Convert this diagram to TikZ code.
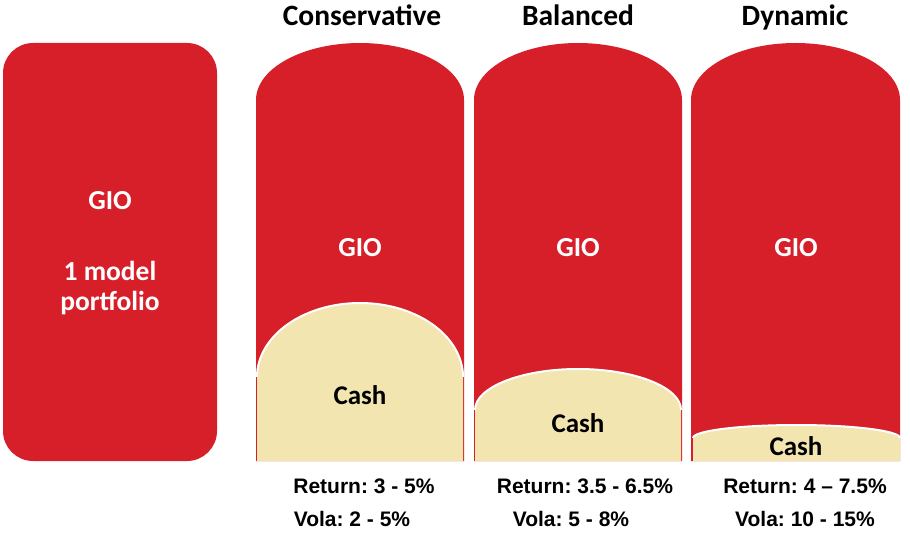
\documentclass[tikz,border=0pt]{standalone}
\usepackage{fontspec}
\setmainfont{Carlito}
\newfontfamily\arialfont{Liberation Sans}
\usepackage{xcolor}
\usepackage{tikz}
\usetikzlibrary{positioning}
\frenchspacing

\definecolor{gired}{HTML}{D71F2A}
\definecolor{cashfill}{HTML}{F2E5AF}

\begin{document}
\begin{tikzpicture}[x=1pt, y=1pt,
    head/.style={anchor=base, font=\fontsize{29.5}{33}\selectfont\bfseries},
    giotxt/.style={anchor=base, text=white, font=\fontsize{27.5}{31}\selectfont\bfseries},
    cashtxt/.style={anchor=base, font=\fontsize{27}{31}\selectfont\bfseries},
    stat/.style={anchor=base, font=\arialfont\fontsize{21}{24}\selectfont\bfseries},
    cashedge/.style={draw=white, line width=2pt}]
      \useasboundingbox (0,0) rectangle (910,536);

      % Single model portfolio
      \fill[gired, rounded corners=30pt] (3,75) rectangle (217,493);
      \node[giotxt] (gio0) at (110,326) {GIO};
      \node[giotxt] (model) at (110,255) {1 model};
      \node[giotxt] (port) at (110,225) {portfolio};

      % Conservative
      \fill[gired] (256,75) -- (256,436) arc[start angle=180, end angle=0, x radius=104, y radius=57] -- (464,75) -- cycle;
      \fill[cashfill] (257,75) -- (257,159) arc[start angle=180, end angle=0, x radius=103, y radius=74] -- (463,75) -- cycle;
      \draw[cashedge] (257,159) arc[start angle=180, end angle=0, x radius=103, y radius=74];
      \node[head] (cons) at (362,510) {Conservative};
      \node[giotxt] (gio1) at (360,279) {GIO};
      \node[cashtxt] (cash1) at (360,132) {Cash};
      \node[stat] (ret1) at (364,43) {Return: 3 - 5\%};
      \node[stat] (vol1) at (352,10) {Vola: 2 - 5\%};

      % Balanced
      \fill[gired] (474,75) -- (474,436) arc[start angle=180, end angle=0, x radius=104, y radius=57] -- (682,75) -- cycle;
      \fill[cashfill] (475,75) -- (475,126) arc[start angle=180, end angle=0, x radius=103, y radius=41] -- (681,75) -- cycle;
      \draw[cashedge] (475,126) arc[start angle=180, end angle=0, x radius=103, y radius=41];
      \node[head] (bal) at (578,510) {Balanced};
      \node[giotxt] (gio2) at (578,279) {GIO};
      \node[cashtxt] (cash2) at (578,104) {Cash};
      \node[stat] (ret2) at (585,43) {Return: 3.5 - 6.5\%};
      \node[stat] (vol2) at (571,10) {Vola: 5 - 8\%};

      % Dynamic
      \fill[gired] (691,75) -- (691,436) arc[start angle=180, end angle=0, x radius=104.5, y radius=57] -- (900,75) -- cycle;
      \fill[cashfill] (693,75) -- (693,98) arc[start angle=180, end angle=0, x radius=103.5, y radius=13] -- (900,75) -- cycle;
      \draw[cashedge] (693,98) arc[start angle=180, end angle=0, x radius=103.5, y radius=13];
      \node[head] (dyn) at (795,510) {Dynamic};
      \node[giotxt] (gio3) at (796,279) {GIO};
      \node[cashtxt] (cash3) at (796,81) {Cash};
      \node[stat] (ret3) at (805,43) {Return: 4 – 7.5\%};
      \node[stat] (vol3) at (805,10) {Vola: 10 - 15\%};
    \end{tikzpicture}
\end{document}
